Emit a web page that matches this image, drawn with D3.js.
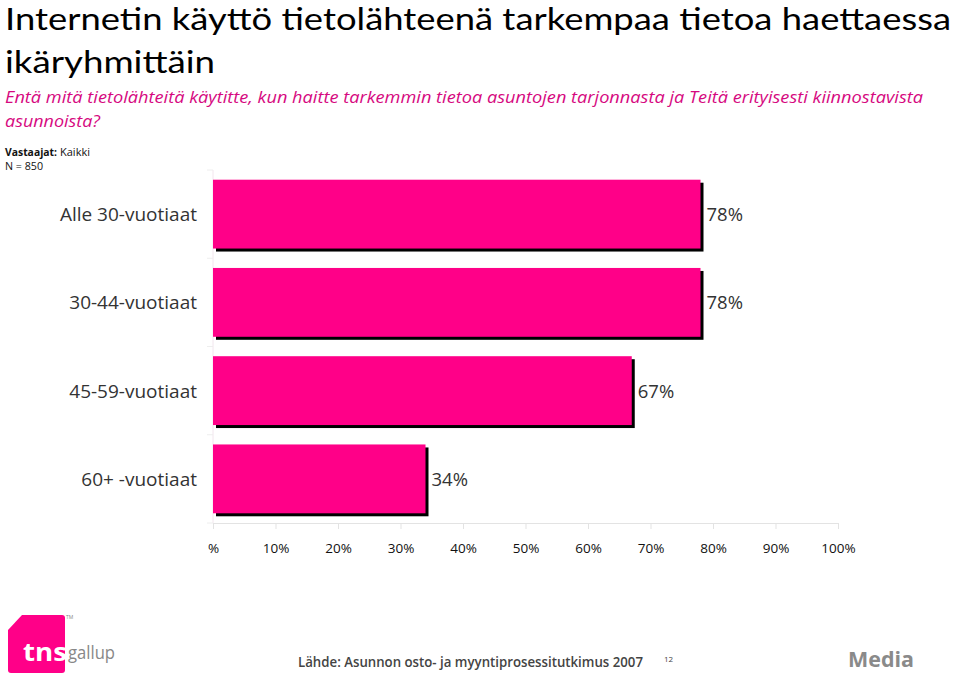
<!DOCTYPE html>
<html><head><meta charset="utf-8">
<script src="https://cdn.jsdelivr.net/npm/d3@7"></script>
<style>body{margin:0;background:#fff;} svg{display:block;}</style>
</head><body>
<script>
const categories = ["Alle 30-vuotiaat", "30-44-vuotiaat", "45-59-vuotiaat", "60+ -vuotiaat"];
const values = [78, 78, 67, 34];
const tickValues = [0,10,20,30,40,50,60,70,80,90,100];
const tickLabels = ["%","10%","20%","30%","40%","50%","60%","70%","80%","90%","100%"];

const W = 960, H = 676;
const svg = d3.select("body").append("svg").attr("width", W).attr("height", H);
const font = "'Open Sans', 'Noto Sans', sans-serif";
const titleFont = "Lato, 'Open Sans', sans-serif";

// Title
svg.append("text").attr("x", 5).attr("y", 30).attr("font-family", titleFont).attr("font-size", 30)
  .attr("fill", "#000").attr("textLength", 946).attr("lengthAdjust", "spacingAndGlyphs")
  .text("Internetin käyttö tietolähteenä tarkempaa tietoa haettaessa");
svg.append("text").attr("x", 5).attr("y", 73).attr("font-family", titleFont).attr("font-size", 30.5)
  .attr("fill", "#000").attr("textLength", 210).attr("lengthAdjust", "spacingAndGlyphs")
  .text("ikäryhmittäin");
svg.append("text").attr("x", 5).attr("y", 103).attr("font-family", font).attr("font-size", 16.5)
  .attr("font-style", "italic").attr("fill", "#d6097f").attr("textLength", 918).attr("lengthAdjust", "spacingAndGlyphs")
  .text("Entä mitä tietolähteitä käytitte, kun haitte tarkemmin tietoa asuntojen tarjonnasta ja Teitä erityisesti kiinnostavista");
svg.append("text").attr("x", 5).attr("y", 127).attr("font-family", font).attr("font-size", 16.5)
  .attr("font-style", "italic").attr("fill", "#d6097f").attr("textLength", 95).attr("lengthAdjust", "spacingAndGlyphs")
  .text("asunnoista?");
svg.append("text").attr("x", 5).attr("y", 156).attr("font-family", font).attr("font-size", 11).attr("font-weight", "bold")
  .attr("fill", "#111").attr("textLength", 52).attr("lengthAdjust", "spacingAndGlyphs").text("Vastaajat:");
svg.append("text").attr("x", 60).attr("y", 156).attr("font-family", font).attr("font-size", 11)
  .attr("fill", "#111").attr("textLength", 30).attr("lengthAdjust", "spacingAndGlyphs").text("Kaikki");
svg.append("text").attr("x", 5).attr("y", 170).attr("font-family", font).attr("font-size", 11).attr("fill", "#111")
  .attr("textLength", 38).attr("lengthAdjust", "spacingAndGlyphs").text("N = 850");

// Chart
const x = d3.scaleLinear().domain([0, 100]).range([213, 838]);
const y = d3.scaleBand().domain(categories).range([170, 523]).paddingInner(0.22).paddingOuter(0.11);

// left axis (light)
const yTicks = [170, 258.25, 346.5, 434.75, 523];
svg.append("line").attr("x1", 213).attr("x2", 213).attr("y1", 170).attr("y2", 523).attr("stroke", "#f2e6ee");
svg.selectAll(".ytick").data(yTicks).join("line").attr("x1", 207).attr("x2", 213)
  .attr("y1", d => d).attr("y2", d => d).attr("stroke", "#eee");

// bottom axis
const xAxis = d3.axisBottom(x).tickValues(tickValues).tickFormat((d, i) => tickLabels[i]).tickSize(6).tickPadding(14);
const gx = svg.append("g").attr("transform", "translate(0,523)").call(xAxis);
gx.select(".domain").attr("stroke", "#e3e3e3");
gx.selectAll(".tick line").attr("stroke", "#e3e3e3");
gx.selectAll(".tick text").attr("font-family", font).attr("font-size", 13.5).attr("fill", "#111");

// shadows
svg.selectAll(".shadow").data(values).join("rect")
  .attr("x", x(0) + 3).attr("y", (d, i) => y(categories[i]) + 3)
  .attr("width", d => x(d) - x(0)).attr("height", y.bandwidth())
  .attr("fill", "#000");
// bars
svg.selectAll(".bar").data(values).join("rect")
  .attr("x", x(0)).attr("y", (d, i) => y(categories[i]))
  .attr("width", d => x(d) - x(0)).attr("height", y.bandwidth())
  .attr("fill", "#ff0088");

// category labels
svg.selectAll(".cat").data(categories).join("text")
  .attr("x", 197).attr("y", d => y(d) + y.bandwidth() / 2 + 7)
  .attr("text-anchor", "end").attr("font-family", font).attr("font-size", 19).attr("fill", "#333")
  .text(d => d);
// value labels
svg.selectAll(".val").data(values).join("text")
  .attr("x", d => x(d) + 6).attr("y", (d, i) => y(categories[i]) + y.bandwidth() / 2 + 7)
  .attr("font-family", font).attr("font-size", 18.5).attr("fill", "#333")
  .text(d => d + "%");

// Footer logo
svg.append("path").attr("d", "M22,615 L62,615 Q65,615 65,618 L65,670 Q65,673 62,673 L11,673 Q8,673 8,670 L8,630 Z").attr("fill", "#ff0088");
svg.append("text").attr("x", 23).attr("y", 661).attr("font-family", font).attr("font-weight", "bold").attr("font-size", 25)
  .attr("fill", "#fff").attr("textLength", 44).attr("lengthAdjust", "spacingAndGlyphs").text("tns");
svg.append("text").attr("x", 68).attr("y", 659).attr("font-family", font).attr("font-size", 19)
  .attr("fill", "#888").attr("textLength", 47).attr("lengthAdjust", "spacingAndGlyphs").text("gallup");
svg.append("text").attr("x", 66).attr("y", 619).attr("font-family", font).attr("font-size", 5).attr("fill", "#888").text("TM");

svg.append("text").attr("x", 298).attr("y", 667).attr("font-family", font).attr("font-size", 13.5).attr("font-weight", "600")
  .attr("fill", "#444").attr("textLength", 345).attr("lengthAdjust", "spacingAndGlyphs")
  .text("Lähde: Asunnon osto- ja myyntiprosessitutkimus 2007");
svg.append("text").attr("x", 664).attr("y", 662).attr("font-family", font).attr("font-size", 8).attr("fill", "#444").text("12");
svg.append("text").attr("x", 848).attr("y", 667).attr("font-family", font).attr("font-size", 21).attr("font-weight", "bold")
  .attr("fill", "#8a8a8a").attr("textLength", 66).attr("lengthAdjust", "spacingAndGlyphs").text("Media");
</script>
</body></html>
